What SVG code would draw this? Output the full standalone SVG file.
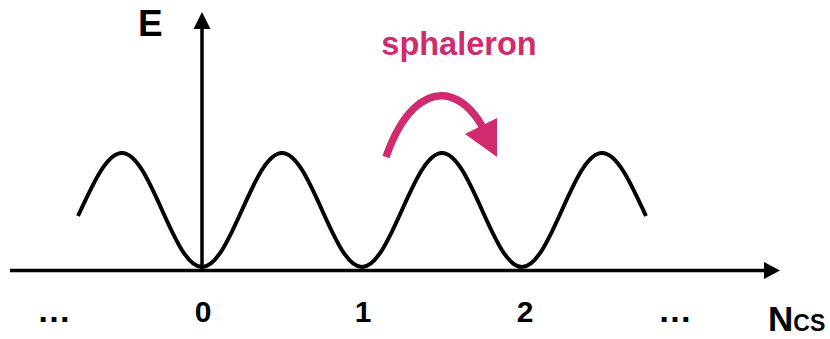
<svg xmlns="http://www.w3.org/2000/svg" width="830" height="339" viewBox="0 0 830 339">
<style>
.ax{stroke:#000;stroke-width:3.5;fill:none}
.curve{stroke:#000;stroke-width:4;fill:none;stroke-linecap:butt}
.lbl{font-family:"Liberation Sans",Arial,sans-serif;font-weight:bold;fill:#000}
.mag{fill:#d12b6f}
</style>
<rect width="830" height="339" fill="#fff"/>
<g id="connectors">
<line class="ax" x1="10" y1="270.5" x2="765" y2="270.5"/>
<polygon points="764,262 780,270.5 764,279" fill="#000"/>
<line class="ax" x1="202" y1="270.5" x2="202" y2="28"/>
<polygon points="193.5,29 202,12 210.5,29" fill="#000"/>
<path class="curve" d="M78,216 C92.16,186 106.1,153 122,153 C150.8,153 173.2,267 202,267 C230.8,267 253.2,153 282,153 C310.8,153 333.2,267 362,267 C390.8,267 413.2,153 442,153 C470.8,153 493.2,267 522,267 C550.8,267 573.2,153 602,153 C617.9,153 631.84,186 646,216"/>
<path d="M386,157 C402,111 425,93 446,96 C462,99 474,112 482,126" fill="none" stroke="#d12b6f" stroke-width="7.5"/>
<polygon class="mag" points="497,118 465,134 497,157"/>
</g>
<g id="label-E"><text class="lbl" x="138" y="36" font-size="37">E</text></g>
<g id="label-sphaleron"><text class="lbl mag" x="459" y="55" font-size="32.5" text-anchor="middle">sphaleron</text></g>
<g id="tick-0"><text class="lbl" x="203" y="322" font-size="30" text-anchor="middle">0</text></g>
<g id="tick-1"><text class="lbl" x="363" y="322" font-size="30" text-anchor="middle">1</text></g>
<g id="tick-2"><text class="lbl" x="525" y="322" font-size="30" text-anchor="middle">2</text></g>
<g id="dots-left"><text class="lbl" x="54" y="322" font-size="34" text-anchor="middle">…</text></g>
<g id="dots-right"><text class="lbl" x="675" y="322" font-size="34" text-anchor="middle">…</text></g>
<g id="label-N"><text class="lbl" x="768" y="331" font-size="35">N<tspan font-size="23">CS</tspan></text></g>
</svg>
